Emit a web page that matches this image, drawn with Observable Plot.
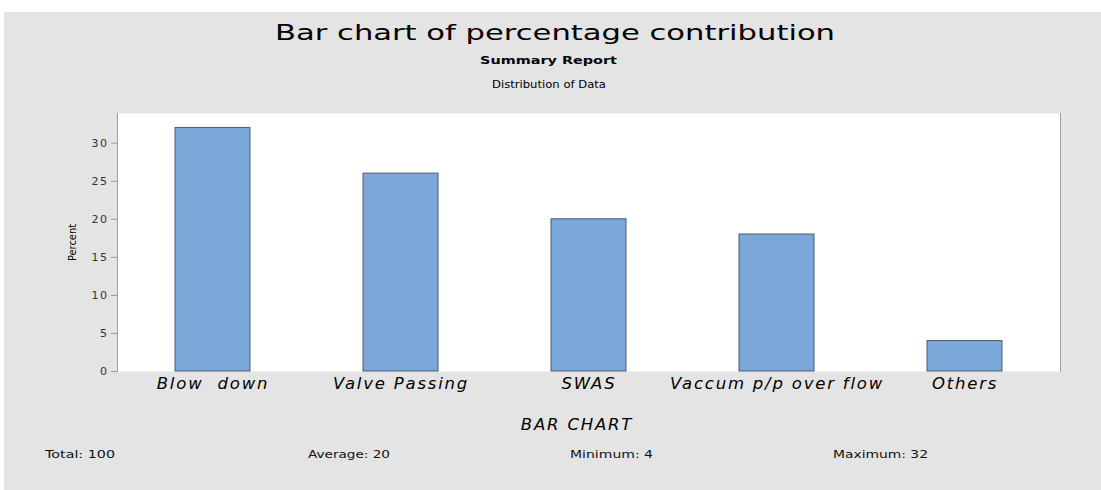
<!DOCTYPE html>
<html><head><meta charset="utf-8">
<script src="https://cdn.jsdelivr.net/npm/d3@7"></script>
<script src="https://cdn.jsdelivr.net/npm/@observablehq/plot@0.6"></script>
<style>
body{margin:0;background:#fff;width:1101px;height:490px;overflow:hidden;position:relative;font-family:"DejaVu Sans",sans-serif;}
#panel{position:absolute;left:4px;top:12px;width:1097px;height:478px;background:#e4e4e4;}
.t{position:absolute;white-space:pre;color:#000;line-height:1;transform-origin:0 0;}
#title{top:23px;font-size:21px;}
#sub{top:54.5px;font-size:11px;font-weight:bold;}
#sub2{top:79px;font-size:11px;}
.f{top:449px;font-size:10.5px;color:#111;}
#chart{position:absolute;left:0;top:100px;}
#chart text{white-space:pre;}
#chart g[aria-label="x-axis tick label"] text, #chart .xlab text{letter-spacing:1.8px;}
#chart g[aria-label="y-axis tick label"] text{letter-spacing:1.5px;}
</style></head>
<body>
<div id="panel"></div>
<div id="title" class="t">Bar chart of percentage contribution</div>
<div id="sub" class="t">Summary Report</div>
<div id="sub2" class="t">Distribution of Data</div>
<div id="chart"></div>
<div id="footer"></div>
<script>
const categories = ["Blow  down", "Valve Passing", "SWAS", "Vaccum p/p over flow", "Others"];
const percents = [32, 26, 20, 18, 4];
const yTicks = [0, 5, 10, 15, 20, 25, 30];
const footerLabels = ["Total: 100", "Average: 20", "Minimum: 4", "Maximum: 32"];

const data = categories.map((c, i) => ({category: c, percent: percents[i]}));

const chart = Plot.plot({
  width: 1101, height: 340,
  marginLeft: 117, marginRight: 41, marginTop: 13, marginBottom: 69,
  style: {background: "transparent", overflow: "visible", color: "#333", fontFamily: "DejaVu Sans, sans-serif"},
  x: {domain: categories, paddingInner: 0.6, paddingOuter: 0.3, label: null},
  y: {domain: [0, 33.9], label: null},
  marks: [
    Plot.frame({fill: "white", stroke: null}),
    Plot.frame({anchor: "left", stroke: "#a0a0a0"}),
    Plot.frame({anchor: "right", stroke: "#a0a0a0"}),
    Plot.barY(data, {x: "category", y: "percent", fill: "#7ba7d9", stroke: "#505b6a", strokeWidth: 1}),
    Plot.axisY({ticks: yTicks, tickSize: 6, tickPadding: 3, stroke: "#999", fill: "#333", fontSize: 11, label: null}),
    Plot.axisX({tickSize: 0, tickPadding: 6, fontSize: 16.5, fontStyle: "italic", fill: "#000", label: null}),
    Plot.text(["Percent"], {frameAnchor: "left", textAnchor: "middle", rotate: -90, dx: -45, fontSize: 11, fill: "#000", fontFamily: "DejaVu Sans Condensed"}),
    Plot.text(["BAR CHART"], {frameAnchor: "bottom", dx: -12, dy: 58, fontSize: 16.5, fontStyle: "italic", fill: "#000", className: "xlab"})
  ]
});
document.getElementById("chart").appendChild(chart);

const footer = document.getElementById("footer");
footerLabels.forEach((s, i) => {
  const d = document.createElement("div");
  d.className = "t f";
  d.id = "f" + i;
  d.textContent = s;
  footer.appendChild(d);
});

// stretch text horizontally to span [x0, x1] like the reference layout
function fit(id, x0, x1) {
  const el = document.getElementById(id);
  const w = el.getBoundingClientRect().width;
  el.style.left = x0 + "px";
  el.style.transform = `scaleX(${(x1 - x0) / w})`;
}
fit("title", 275, 835);
fit("sub", 480, 617);
fit("sub2", 492, 606);
fit("f0", 45, 115);
fit("f1", 308, 390);
fit("f2", 570, 653);
fit("f3", 833, 928);
</script>
</body></html>
